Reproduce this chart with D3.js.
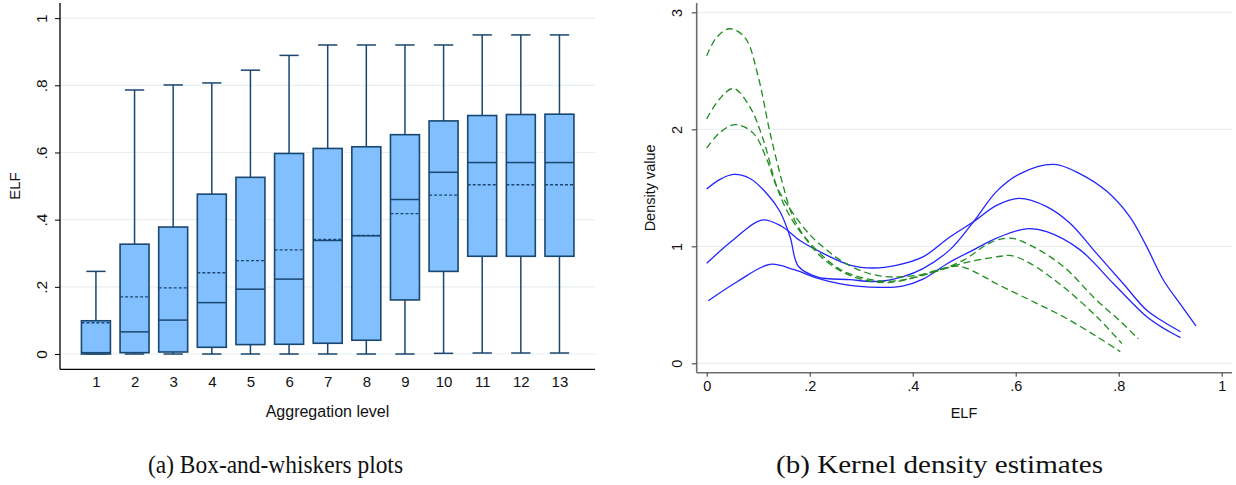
<!DOCTYPE html>
<html>
<head>
<meta charset="utf-8">
<script src="https://cdn.jsdelivr.net/npm/d3@7"></script>
<style>
  html, body { margin: 0; padding: 0; background: #fff; }
  svg { display: block; }
  text { font-family: "Liberation Sans", Arial, sans-serif; fill: #111; }
  .cap { font-family: "Liberation Serif", "DejaVu Serif", serif; }
</style>
</head>
<body>
<svg id="chart" width="1236" height="485"></svg>
<script>
// ---------- Panel (a): box-and-whiskers ----------
const levels      = [1, 2, 3, 4, 5, 6, 7, 8, 9, 10, 11, 12, 13];
const q1          = [0.000, 0.004, 0.006, 0.020, 0.028, 0.029, 0.032, 0.041, 0.161, 0.246, 0.291, 0.291, 0.291];
const median      = [0.004, 0.066, 0.101, 0.153, 0.193, 0.223, 0.338, 0.352, 0.460, 0.541, 0.570, 0.570, 0.570];
const q3          = [0.099, 0.327, 0.378, 0.476, 0.526, 0.597, 0.612, 0.617, 0.653, 0.694, 0.710, 0.713, 0.714];
const meanVal     = [0.093, 0.170, 0.197, 0.242, 0.278, 0.310, 0.341, 0.353, 0.418, 0.473, 0.504, 0.504, 0.504];
const whiskerLow  = [0.000, 0.000, 0.000, 0.000, 0.000, 0.000, 0.000, 0.000, 0.000, 0.002, 0.003, 0.003, 0.003];
const whiskerHigh = [0.246, 0.786, 0.801, 0.807, 0.845, 0.889, 0.920, 0.920, 0.920, 0.920, 0.950, 0.950, 0.950];
const boxYTicks   = [0, 0.2, 0.4, 0.6, 0.8, 1];
const boxYLabels  = ["0", ".2", ".4", ".6", ".8", "1"];

// ---------- Panel (b): kernel densities (x = ELF, y = density) ----------
const densX_G1 = [0, 0.02, 0.045, 0.075, 0.1, 0.123, 0.149, 0.165, 0.19, 0.22, 0.26, 0.30, 0.35, 0.40, 0.434, 0.489, 0.53, 0.563, 0.628, 0.692, 0.757, 0.803];
const densY_G1 = [2.63, 2.79, 2.86, 2.78, 2.45, 1.97, 1.51, 1.28, 1.08, 0.92, 0.79, 0.72, 0.69, 0.73, 0.78, 0.83, 0.76, 0.68, 0.54, 0.40, 0.23, 0.10];
const densX_G2 = [0, 0.025, 0.052, 0.084, 0.11, 0.136, 0.16, 0.19, 0.23, 0.26, 0.30, 0.35, 0.40, 0.434, 0.498, 0.563, 0.592, 0.628, 0.692, 0.757, 0.806];
const densY_G2 = [2.09, 2.26, 2.35, 2.19, 1.91, 1.51, 1.27, 1.08, 0.90, 0.80, 0.735, 0.70, 0.73, 0.77, 0.855, 0.91, 0.92, 0.855, 0.655, 0.40, 0.17];
const densX_G3 = [0, 0.025, 0.055, 0.09, 0.117, 0.136, 0.165, 0.20, 0.23, 0.26, 0.30, 0.34, 0.38, 0.434, 0.498, 0.55, 0.589, 0.628, 0.692, 0.757, 0.803, 0.838];
const densY_G3 = [1.84, 1.97, 2.04, 1.97, 1.74, 1.51, 1.30, 1.10, 0.98, 0.88, 0.79, 0.745, 0.74, 0.775, 0.88, 1.03, 1.07, 1.01, 0.83, 0.54, 0.36, 0.21];
const densX_BA = [0, 0.025, 0.052, 0.084, 0.117, 0.142, 0.162, 0.178, 0.214, 0.278, 0.33, 0.38, 0.42, 0.472, 0.518, 0.563, 0.608, 0.674, 0.725, 0.777, 0.822, 0.854, 0.887, 0.919, 0.95];
const densY_BA = [1.49, 1.57, 1.615, 1.58, 1.45, 1.30, 1.08, 0.83, 0.74, 0.715, 0.70, 0.74, 0.81, 0.97, 1.21, 1.47, 1.62, 1.70, 1.62, 1.47, 1.25, 1.00, 0.71, 0.51, 0.32];
const densX_BB = [0, 0.05, 0.107, 0.146, 0.181, 0.226, 0.278, 0.323, 0.37, 0.42, 0.472, 0.518, 0.563, 0.607, 0.66, 0.705, 0.757, 0.809, 0.854, 0.887, 0.92];
const densY_BB = [0.855, 1.05, 1.225, 1.17, 1.05, 0.94, 0.84, 0.815, 0.84, 0.91, 1.08, 1.21, 1.35, 1.41, 1.34, 1.20, 0.94, 0.68, 0.455, 0.355, 0.27];
const densX_BC = [0.003, 0.06, 0.123, 0.17, 0.21, 0.26, 0.336, 0.38, 0.42, 0.47, 0.518, 0.563, 0.62, 0.66, 0.725, 0.79, 0.854, 0.887, 0.92];
const densY_BC = [0.535, 0.70, 0.846, 0.80, 0.735, 0.68, 0.65, 0.66, 0.72, 0.86, 0.97, 1.07, 1.15, 1.125, 0.97, 0.68, 0.40, 0.30, 0.22];
const densXTicks  = [0, 0.2, 0.4, 0.6, 0.8, 1];
const densXLabels = ["0", ".2", ".4", ".6", ".8", "1"];
const densYTicks  = [0, 1, 2, 3];

const svg = d3.select("#chart");
const gridColor = "#e8eff1";
const navy = "#1a476f";

// ===== Panel (a) =====
const ax = d3.scaleLinear().domain([0.07, 13.92]).range([60, 595]);
const ay = d3.scaleLinear().domain([-0.0455, 1.045]).range([369.3, 3]);
const pa = svg.append("g");

pa.selectAll("line.grid").data(boxYTicks).join("line")
  .attr("x1", 60).attr("x2", 595)
  .attr("y1", d => ay(d)).attr("y2", d => ay(d))
  .attr("stroke", gridColor).attr("stroke-width", 1.2);

const yAxisA = d3.axisLeft(ay).tickValues(boxYTicks).tickSize(5)
  .tickFormat((d, i) => boxYLabels[i]);
const gya = pa.append("g").attr("transform", "translate(60,0)").call(yAxisA);
gya.select(".domain").attr("stroke", "#000").attr("stroke-width", 1.3).attr("d", `M0,${ay.range()[1]}V${ay.range()[0]}`);
gya.selectAll(".tick line").attr("stroke", "#000");
gya.selectAll(".tick text")
  .attr("font-size", 15.5).attr("fill", "#111")
  .attr("transform", "rotate(-90)").attr("x", 0).attr("y", -18)
  .attr("text-anchor", "middle").attr("dy", "0.35em")
  .attr("font-family", "Liberation Sans, Arial, sans-serif");

const xAxisA = d3.axisBottom(ax).tickValues(levels).tickSize(0).tickPadding(7).tickFormat(d => String(d));
const gxa = pa.append("g").attr("transform", `translate(0,${ay.range()[0]})`).call(xAxisA);
gxa.select(".domain").attr("stroke", "#000").attr("stroke-width", 1.3).attr("d", `M60,0H595`);
gxa.selectAll(".tick text").attr("font-size", 15).attr("fill", "#111")
  .attr("font-family", "Liberation Sans, Arial, sans-serif");

const step = ax(2) - ax(1);
const bw = step * 0.75, cw = step * 0.5;
const boxes = pa.selectAll("g.box").data(levels).join("g").attr("class", "box");
// whiskers
boxes.append("line").attr("x1", (d) => ax(d)).attr("x2", d => ax(d))
  .attr("y1", (d, i) => ay(whiskerHigh[i])).attr("y2", (d, i) => ay(q3[i]))
  .attr("stroke", navy).attr("stroke-width", 1.5);
boxes.append("line").attr("x1", (d) => ax(d)).attr("x2", d => ax(d))
  .attr("y1", (d, i) => ay(whiskerLow[i])).attr("y2", (d, i) => ay(q1[i]))
  .attr("stroke", navy).attr("stroke-width", 1.5);
boxes.append("line").attr("x1", d => ax(d) - cw / 2).attr("x2", d => ax(d) + cw / 2)
  .attr("y1", (d, i) => ay(whiskerHigh[i])).attr("y2", (d, i) => ay(whiskerHigh[i]))
  .attr("stroke", navy).attr("stroke-width", 1.5);
boxes.append("line").attr("x1", d => ax(d) - cw / 2).attr("x2", d => ax(d) + cw / 2)
  .attr("y1", (d, i) => ay(whiskerLow[i])).attr("y2", (d, i) => ay(whiskerLow[i]))
  .attr("stroke", navy).attr("stroke-width", 1.5);
// box
boxes.append("rect").attr("x", d => ax(d) - bw / 2).attr("width", bw)
  .attr("y", (d, i) => ay(q3[i])).attr("height", (d, i) => ay(q1[i]) - ay(q3[i]))
  .attr("fill", "#82bfff").attr("stroke", navy).attr("stroke-width", 1.6);
// median
boxes.append("line").attr("x1", d => ax(d) - bw / 2).attr("x2", d => ax(d) + bw / 2)
  .attr("y1", (d, i) => ay(median[i])).attr("y2", (d, i) => ay(median[i]))
  .attr("stroke", navy).attr("stroke-width", 1.5);
// mean
boxes.append("line").attr("x1", d => ax(d) - bw / 2).attr("x2", d => ax(d) + bw / 2)
  .attr("y1", (d, i) => ay(meanVal[i])).attr("y2", (d, i) => ay(meanVal[i]))
  .attr("stroke", navy).attr("stroke-width", 1.4).attr("stroke-dasharray", "3,2");

pa.append("text").attr("x", 327.5).attr("y", 417).attr("text-anchor", "middle")
  .attr("font-size", 16).text("Aggregation level");
pa.append("text").attr("transform", `translate(20,${(ay(0) + ay(1)) / 2}) rotate(-90)`)
  .attr("text-anchor", "middle").attr("font-size", 15).text("ELF");

// ===== Panel (b) =====
const bx = d3.scaleLinear().domain([-0.0194, 1.02]).range([696.7, 1232]);
const by = d3.scaleLinear().domain([-0.08, 3.08]).range([372.7, 3]);
const pb = svg.append("g");

pb.selectAll("line.grid").data(densYTicks).join("line")
  .attr("x1", 697).attr("x2", 1232)
  .attr("y1", d => by(d)).attr("y2", d => by(d))
  .attr("stroke", gridColor).attr("stroke-width", 1.2);

const yAxisB = d3.axisLeft(by).tickValues(densYTicks).tickSize(5).tickFormat(d => String(d));
const gyb = pb.append("g").attr("transform", "translate(696.7,0)").call(yAxisB);
gyb.select(".domain").attr("stroke", "#6e6e6e").attr("stroke-width", 1.6).attr("d", `M0,${by.range()[1]}V${by.range()[0]}`);
gyb.selectAll(".tick line").attr("stroke", "#333");
gyb.selectAll(".tick text")
  .attr("font-size", 14.5).attr("fill", "#111")
  .attr("transform", "rotate(-90)").attr("x", 0).attr("y", -20)
  .attr("text-anchor", "middle").attr("dy", "0.35em")
  .attr("font-family", "Liberation Sans, Arial, sans-serif");

const xAxisB = d3.axisBottom(bx).tickValues(densXTicks).tickSize(4).tickPadding(4)
  .tickFormat((d, i) => densXLabels[i]);
const gxb = pb.append("g").attr("transform", `translate(0,${by.range()[0]})`).call(xAxisB);
gxb.select(".domain").attr("stroke", "#6e6e6e").attr("stroke-width", 1.6).attr("d", `M696.7,0H1232`);
gxb.selectAll(".tick line").attr("stroke", "#333");
gxb.selectAll(".tick text").attr("font-size", 14.5).attr("fill", "#111")
  .attr("font-family", "Liberation Sans, Arial, sans-serif");

const line = d3.line().x(d => bx(d[0])).y(d => by(d[1])).curve(d3.curveCatmullRom.alpha(0.5));
const zip = (xs, ys) => xs.map((x, i) => [x, ys[i]]);
const greens = [zip(densX_G1, densY_G1), zip(densX_G2, densY_G2), zip(densX_G3, densY_G3)];
const blues  = [zip(densX_BA, densY_BA), zip(densX_BB, densY_BB), zip(densX_BC, densY_BC)];

pb.selectAll("path.blue").data(blues).join("path").attr("class", "blue")
  .attr("d", line).attr("fill", "none").attr("stroke", "#2424ff").attr("stroke-width", 1.3);
pb.selectAll("path.green").data(greens).join("path").attr("class", "green")
  .attr("d", line).attr("fill", "none").attr("stroke", "#1e8c1e").attr("stroke-width", 1.3)
  .attr("stroke-dasharray", "7,4");

pb.append("text").attr("x", 964).attr("y", 418).attr("text-anchor", "middle")
  .attr("font-size", 14.5).text("ELF");
pb.append("text").attr("transform", `translate(655,${(by(0) + by(3)) / 2}) rotate(-90)`)
  .attr("text-anchor", "middle").attr("font-size", 14.5).text("Density value");

// ===== Captions =====
svg.append("text").attr("class", "cap").attr("x", 148).attr("y", 473)
  .attr("font-size", 24.5).attr("textLength", 255).attr("lengthAdjust", "spacingAndGlyphs")
  .text("(a) Box-and-whiskers plots");
svg.append("text").attr("class", "cap").attr("x", 776).attr("y", 473)
  .attr("font-size", 24.5).attr("textLength", 327).attr("lengthAdjust", "spacingAndGlyphs")
  .text("(b) Kernel density estimates");
</script>
</body>
</html>
